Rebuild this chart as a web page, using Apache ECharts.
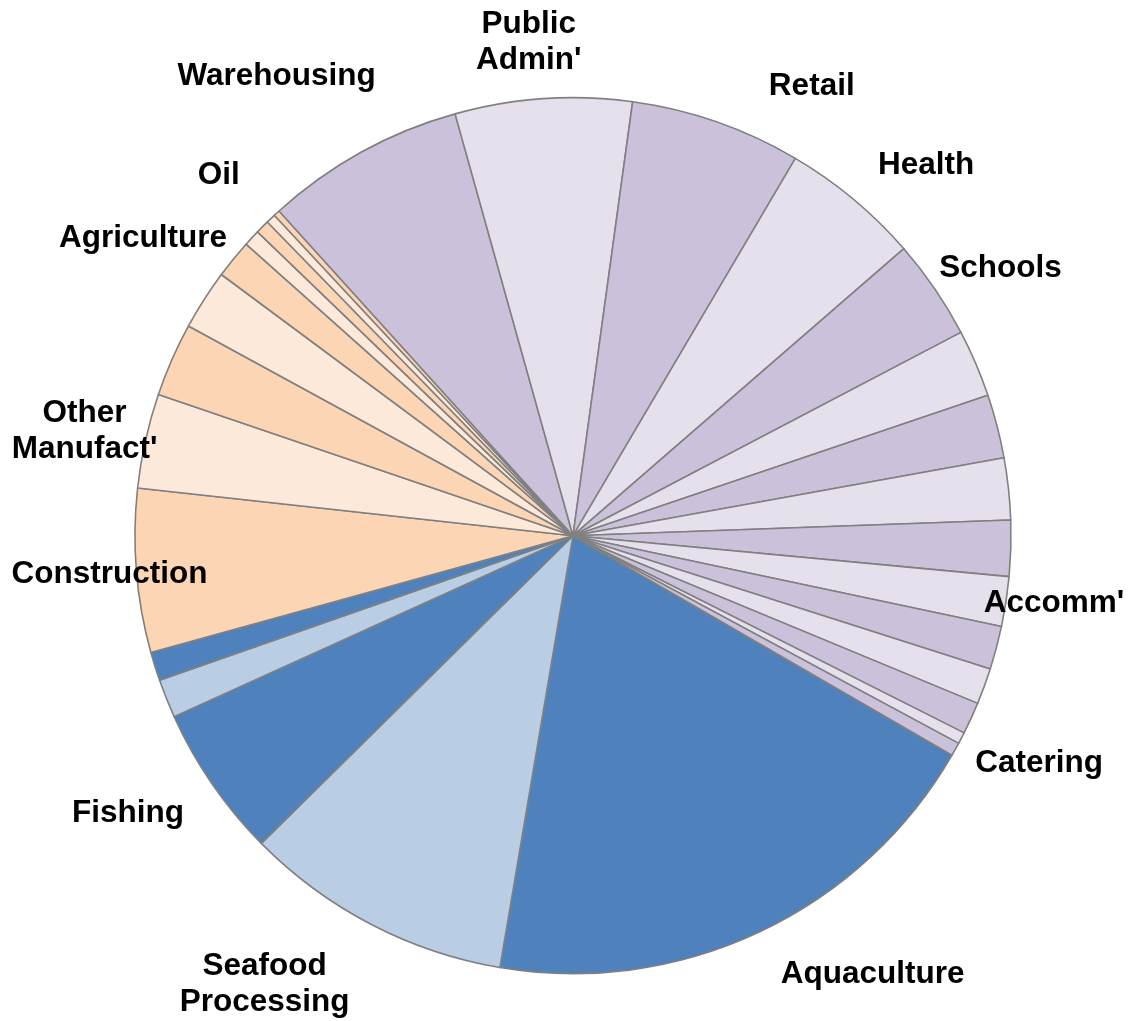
<!DOCTYPE html>
<html><head><meta charset="utf-8">
<script src="https://cdn.jsdelivr.net/npm/echarts@6/dist/echarts.min.js"></script>
<style>html,body{margin:0;padding:0;background:#fff}#chart{width:1130px;height:1021px}</style>
</head><body><div id="chart"></div>
<script>
// Slices in clockwise order, starting with Aquaculture
const categories = ['Aquaculture','Seafood Processing','Fishing','Primary sector 4','Primary sector 5',
  'Construction',"Other Manufact'",'Industry sector 8','Agriculture','Industry sector 10','Industry sector 11','Oil','Industry sector 13','Industry sector 14',
  'Warehousing',"Public Admin'",'Retail','Health','Schools','Service sector 20','Service sector 21','Service sector 22','Service sector 23',
  "Accomm'",'Service sector 25','Service sector 26','Service sector 27','Catering','Service sector 29'];
const values = [19.31, 9.93, 5.62, 1.42, 1.06,
  6.03, 3.49, 2.72, 2.22, 1.42, 0.61, 0.51, 0.35, 0.23,
  7.37, 6.51, 6.30, 5.15, 3.69, 2.49, 2.34, 2.28, 2.06,
  1.83, 1.60, 1.33, 1.18, 0.43, 0.49];
const labels = ['Aquaculture','Seafood\nProcessing','Fishing','','',
  'Construction',"Other\nManufact'",'','Agriculture','','','Oil','','',
  'Warehousing',"Public\nAdmin'",'Retail','Health','Schools','','','','',
  "Accomm'",'','','','Catering',''];

// styling / label placement (separate from data)
const DB='#4F81BD', LB='#B9CDE5', DP='#FCD5B5', LP='#FDE9D9', PU='#CCC1DA', LV='#E5E0EC';
const sliceColors = [DB,LB,DB,LB,DB, DP,LP,DP,LP,DP,LP,DP,LP,DP,
  PU,LV,PU,LV,PU,LV,PU,LV,PU,LV,PU,LV,PU,LV,PU];
const labelShift = [-9.3,7.15,2.75,0,0, 0.1,-0.2,0,2.2,0,0,0.8,0,0,
  -3.8,-1.2,8.7,3.7,2.05,0,0,0,0, -0.85,0,0,0,-1.65,0];
const labelDist = [529.7,542.5,523.3,0,0, 464.9,500,0,523.6,0,0,506.6,0,0,
  548.7,497.6,510.8,513,505.5,0,0,0,0, 485.5,0,0,0,518,0];

const CX = 573, CY = 535.7, R = 438, FIRST = 120.07; // first slice starts at 120.07deg clockwise from 12 o'clock
const TEXT_DY = 2;
const total = values.reduce((a, b) => a + b, 0);
const mids = []; let acc = 0;
values.forEach(v => { mids.push(FIRST + 360 * (acc + v / 2) / total); acc += v; });

const chart = echarts.init(document.getElementById('chart'), null, {renderer: 'canvas'});
chart.setOption({
  animation: false,
  series: [{
    type: 'pie',
    center: [CX, CY],
    radius: R,
    startAngle: 90 - FIRST,
    clockwise: true,
    avoidLabelOverlap: false,
    silent: true,
    itemStyle: {borderColor: '#808080', borderWidth: 1.6},
    label: {
      show: true, position: 'outside', color: '#000',
      fontFamily: '"Liberation Sans", Arial, sans-serif', fontWeight: 'bold',
      fontSize: 31.5, lineHeight: 36, align: 'center',
      formatter: p => labels[p.dataIndex]
    },
    labelLine: {show: false},
    labelLayout: p => {
      const i = p.dataIndex;
      if (!labels[i]) return {};
      const th = (mids[i] + labelShift[i]) * Math.PI / 180;
      const d = labelDist[i];
      return {x: CX + d * Math.sin(th), y: CY - d * Math.cos(th) + TEXT_DY, align: 'center', verticalAlign: 'middle'};
    },
    data: categories.map((c, i) => ({
      name: c, value: values[i],
      itemStyle: {color: sliceColors[i]},
      label: {show: labels[i] !== ''}
    }))
  }]
});
</script></body></html>
